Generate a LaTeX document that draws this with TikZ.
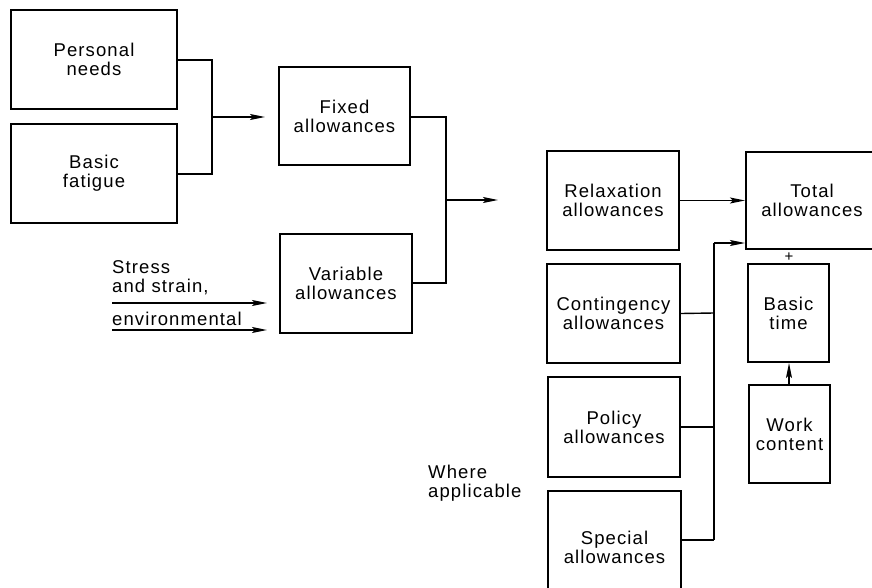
\documentclass[tikz,border=0pt]{standalone}
\usepackage{fontspec}
\setmainfont[LetterSpace=6]{Liberation Sans}
\usetikzlibrary{arrows.meta}
\begin{document}
\begin{tikzpicture}[x=1pt,y=-1pt,
  font=\fontsize{18.5}{19}\selectfont,
  box/.style={draw, line width=2pt, inner sep=0pt, align=center,
    minimum width=#1},
  box/.default=132pt,
  wire/.style={line width=1.4pt},
  arr/.style={wire, -{Stealth[length=15pt,width=6pt,inset=3pt]}},
  lbl/.style={anchor=base west, inner sep=0pt, align=left}]
\useasboundingbox (0,0) rectangle (872,588);
\clip (0,0) rectangle (872,588);

% input boxes
\node[box=166pt, minimum height=99pt] (pn) at (94,59.5) {Personal\\needs};
\node[box=166pt, minimum height=99pt] (bf) at (94,173.5) {Basic\\fatigue};
\node[box=131pt, minimum height=98pt] (fix) at (344.5,116) {Fixed\\allowances};
\node[box=132pt, minimum height=99pt] (var) at (346,283.5) {Variable\\allowances};

% allowance boxes
\node[box=132pt, minimum height=99pt] (rel) at (613,200.5) {Relaxation\\allowances};
\node[box=133pt, minimum height=99pt] (con) at (613.5,313.5) {Contingency\\allowances};
\node[box=132pt, minimum height=100pt] (pol) at (614,427) {Policy\\allowances};
\node[box=133pt, minimum height=112pt] (spe) at (614.5,547) {Special\\allowances};

% totals
\node[box=132pt, minimum height=97pt] (tot) at (812,200.5) {Total\\allowances};
\node[box=81pt, minimum height=98pt] (bt) at (788.5,313) {Basic\\time};
\node[box=81pt, minimum height=98pt] (wc) at (789.5,434) {Work\\content};

% free labels (base = baseline of the last line)
\node[lbl] (stress) at (112,292) {Stress\\and strain,};
\node[lbl] (env) at (112,325) {environmental};
\node[lbl] (where) at (428,497) {Where\\applicable};
\node[inner sep=0pt, font=\fontsize{15}{15}\selectfont] (plus) at (789,257) {+};

% joins and arrows
\coordinate (j1) at (212,117);
\coordinate (t1) at (265,117);
\draw[wire] (pn.east |- 0,60) -| (j1) |- (bf.east |- 0,174);
\draw[arr] (j1) -- (t1);

\coordinate (j2) at (446,200);
\coordinate (t2) at (498,200);
\draw[wire] (fix.east |- 0,117) -| (j2) |- (var.east |- 0,283);
\draw[arr] (j2) -- (t2);

\coordinate (s1) at (112,303);
\coordinate (s1e) at (267,303);
\coordinate (s2) at (112,330);
\coordinate (s2e) at (267,330);
\draw[arr] (s1) -- (s1e);
\draw[arr] (s2) -- (s2e);

\draw[arr] (rel.east) -- (tot.west |- rel.east);

\coordinate (bus) at (714,243);
\draw[arr] (bus) -- (tot.west |- bus);
\draw[wire] (bus) -- (714,540);
\draw[wire] (con.east) -- (714,313);
\draw[wire] (pol.east) -- (714,427);
\draw[wire] (spe.east |- 0,540) -- (714,540);

\draw[arr] (wc.north -| plus) -- (bt.south -| plus);
\end{tikzpicture}
\end{document}
